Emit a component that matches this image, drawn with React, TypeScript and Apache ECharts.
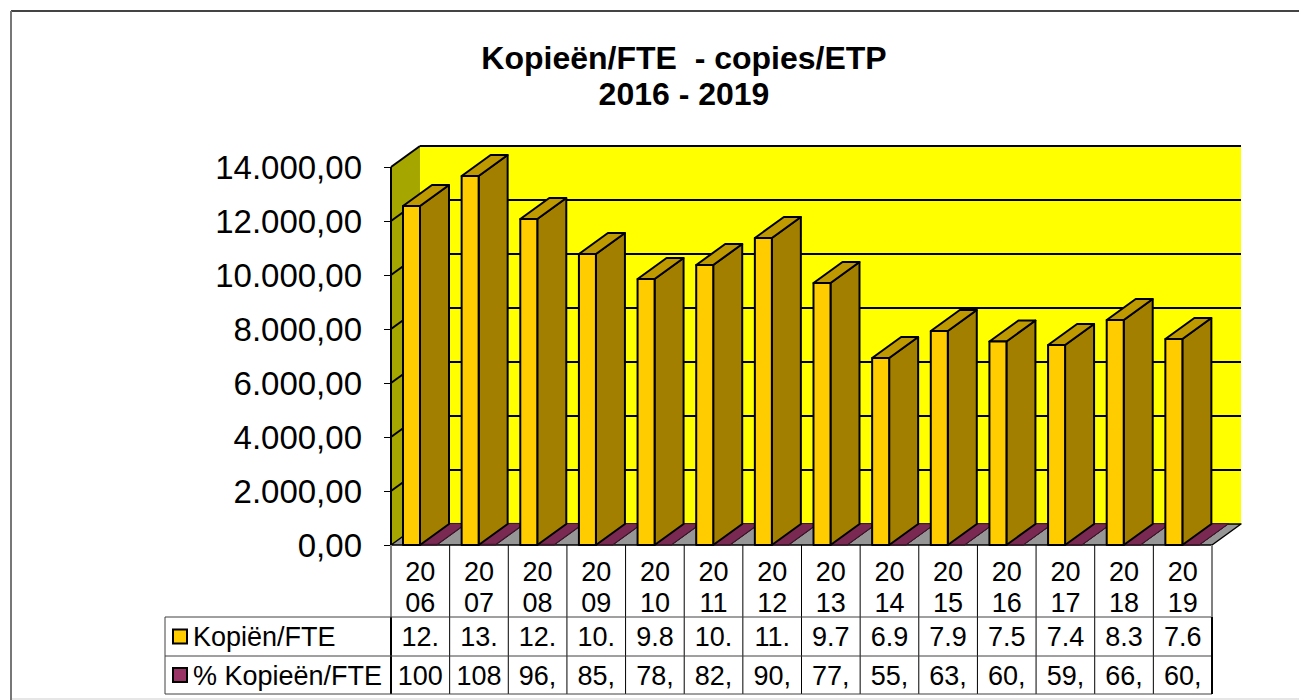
import React, { useEffect, useRef } from "react";
import * as echarts from "echarts";

const years = ["2006","2007","2008","2009","2010","2011","2012","2013","2014","2015","2016","2017","2018","2019"];
const copies = [12555,13667,12074,10778,9852,10370,11370,9704,6926,7926,7537,7407,8333,7630];
const percent = [100,108,96,85,78,82,90,77,55,63,60,59,66,60];
const axisLabels = ["20\n06","20\n07","20\n08","20\n09","20\n10","20\n11","20\n12","20\n13","20\n14","20\n15","20\n16","20\n17","20\n18","20\n19"];
const copiesCells = ["12.","13.","12.","10.","9.8","10.","11.","9.7","6.9","7.9","7.5","7.4","8.3","7.6"];
const percentCells = ["100","108","96,","85,","78,","82,","90,","77,","55,","63,","60,","59,","66,","60,"];
const seriesNames = ["Kopiën/FTE","% Kopieën/FTE"];
const titleLines = "Kopieën/FTE  - copies/ETP\n2016 - 2019";
const gridValues = [2000,4000,6000,8000,10000,12000,14000];

const DX = 29, DY = -21;
const FONT = "'Liberation Sans', Arial, sans-serif";
const poly = (points: number[][], fill: string, stroke = "#000", lineWidth = 2) => ({
  type: "polygon", shape: { points }, style: { fill, stroke, lineWidth, lineJoin: "round" },
});
const seg = (x1: number, y1: number, x2: number, y2: number, stroke = "#000", lineWidth = 1) => ({
  type: "line", shape: { x1, y1, x2, y2 }, style: { stroke, lineWidth },
});

function box3d(x: number, w: number, y0: number, yv: number, front: string, top: string, side: string, stroke = "#000", lw = 2) {
  return [
    poly([[x + w, y0], [x + w + DX, y0 + DY], [x + w + DX, yv + DY], [x + w, yv]], side, stroke, lw),
    poly([[x, yv], [x + w, yv], [x + w + DX, yv + DY], [x + DX, yv + DY]], top, stroke, lw),
    poly([[x, y0], [x + w, y0], [x + w, yv], [x, yv]], front, stroke, lw),
  ];
}

export default function App() {
  const ref = useRef<HTMLDivElement>(null);
  useEffect(() => {
    const chart = echarts.init(ref.current!, undefined, { renderer: "svg" });
    const edges = (api: any, i: number) => {
      const c = api.coord([i, 0])[0];
      const band = api.size([1, 0])[0];
      return { c, band, left: c - band / 2, right: c + band / 2 };
    };
    chart.setOption({
      animation: false,
      backgroundColor: "#fff",
      title: {
        text: titleLines, left: 679, top: 35, textAlign: "center",
        textStyle: { fontFamily: FONT, fontSize: 32, fontWeight: "bold", color: "#000", lineHeight: 36 },
      },
      grid: { left: 391, right: 87, top: 167, bottom: 155 },
      xAxis: {
        type: "category", data: years,
        axisLine: { show: false }, axisTick: { show: false },
        axisLabel: {
          interval: 0, margin: 11, color: "#000", fontFamily: FONT, fontSize: 27, lineHeight: 31,
          formatter: (_: string, i: number) => axisLabels[i],
        },
      },
      yAxis: [
        {
          type: "value", min: 0, max: 14000, interval: 2000,
          splitLine: { show: false },
          axisLine: { show: false },
          axisTick: { show: true, length: 7, lineStyle: { color: "#000", width: 1 } },
          axisLabel: {
            color: "#000", fontFamily: FONT, fontSize: 33, margin: 29, padding: [12, 0, 0, 0],
            formatter: (v: number) => v.toLocaleString("de-DE", { minimumFractionDigits: 2, maximumFractionDigits: 2 }),
          },
        },
        { type: "value", min: 0, max: 70000, show: false, splitLine: { show: false } },
      ],
      series: [
        {
          type: "custom", name: "walls", silent: true, clip: false, z: 1, data: [0],
          renderItem: (_: any, api: any) => {
            const first = edges(api, 0), last = edges(api, years.length - 1);
            const x0 = first.left, x1 = last.right;
            const y0 = api.coord([0, 0])[1], yT = api.coord([0, 14000])[1];
            const children: any[] = [
              poly([[x0 + DX, yT + DY], [x1 + DX, yT + DY], [x1 + DX, y0 + DY], [x0 + DX, y0 + DY]], "#FFFF00", "#FFFF00", 0),
              poly([[x0, yT], [x0 + DX, yT + DY], [x0 + DX, y0 + DY], [x0, y0]], "#A6A600", "#A6A600", 0),
              poly([[x0, y0], [x0 + DX, y0 + DY], [x1 + DX, y0 + DY], [x1, y0]], "#969696", "#000", 1.5),
              seg(x0, yT, x0, y0, "#000", 2),
            ];
            gridValues.forEach((v) => {
              const y = api.coord([0, v])[1];
              children.push(seg(x0, y, x0 + DX, y + DY, "#000", 2));
              children.push(seg(x0 + DX, y + DY, x1 + DX, y + DY, "#000", 2));
            });
            return { type: "group", children };
          },
        },
        {
          type: "custom", name: seriesNames[1], clip: false, z: 2, yAxisIndex: 1, data: percent.map((v, i) => [i, v]),
          renderItem: (_: any, api: any) => {
            const i = api.value(0);
            const e = edges(api, i);
            const y0 = api.coord([0, 0])[1], yv = api.coord([0, api.value(1)])[1];
            return { type: "group", children: box3d(e.left + 29, 17, y0, yv, "#993366", "#7A2952", "#5E1F3F", "#3A1528", 1) };
          },
        },
        {
          type: "custom", name: seriesNames[0], clip: false, z: 3, data: copies.map((v, i) => [i, v]),
          renderItem: (_: any, api: any) => {
            const i = api.value(0);
            const e = edges(api, i);
            const y0 = api.coord([0, 0])[1], yv = api.coord([0, api.value(1)])[1];
            return { type: "group", children: box3d(e.left + 12, 17, y0, yv, "#FFCC00", "#BF9900", "#A37F00") };
          },
        },
        {
          type: "custom", name: "table", silent: true, clip: false, z: 4, data: years.map((_, i) => i),
          renderItem: (_: any, api: any) => {
            const i = api.value(0);
            const e = edges(api, i);
            const y0 = api.coord([0, 0])[1];
            const rowA = y0 + 72, rowB = y0 + 111, rowC = y0 + 149;
            const cell = (text: string, cy: number) => ({
              type: "text", x: e.c, y: cy,
              style: { text, fill: "#000", font: `27px ${FONT}`, align: "center", verticalAlign: "middle" },
            });
            const children: any[] = [
              seg(e.right, y0, e.right, rowC, "#000", 1),
              cell(copiesCells[i], (rowA + rowB) / 2),
              cell(percentCells[i], (rowB + rowC) / 2 + 1),
            ];
            if (i === 0) {
              const lx = 165;
              children.push(seg(e.left, y0, e.left, rowA, "#808080", 2));
              children.push(seg(e.left, rowA, e.left, rowC, "#000", 2));
              [rowA, rowB, rowC].forEach((y) => children.push(seg(lx, y, e.left, y, "#404040", 1)));
              children.push(seg(lx, rowA, lx, rowC, "#404040", 1));
              seriesNames.forEach((name, k) => {
                const cy = k === 0 ? (rowA + rowB) / 2 : (rowB + rowC) / 2;
                children.push({
                  type: "rect", shape: { x: lx + 8, y: cy - 7, width: 14, height: 14 },
                  style: { fill: k === 0 ? "#FFCC00" : "#993366", stroke: "#000", lineWidth: 2 },
                });
                children.push({
                  type: "text", x: lx + 28, y: k === 0 ? cy : cy + 1,
                  style: { text: name, fill: "#000", font: `27px ${FONT}`, align: "left", verticalAlign: "middle" },
                });
              });
            }
            [rowA, rowB, rowC].forEach((y) => children.push(seg(e.left, y, e.right, y, "#404040", 1)));
            if (i === years.length - 1) {
              children.push(seg(e.right, y0, e.right, rowA, "#808080", 2));
              children.push(seg(e.right, rowA, e.right, rowC, "#000", 2));
            }
            return { type: "group", children };
          },
        },
      ],
      graphic: [
        { type: "line", silent: true, z: -1, shape: { x1: 11, y1: 11, x2: 1299, y2: 11 }, style: { stroke: "#444", lineWidth: 2 } },
        { type: "line", silent: true, z: -1, shape: { x1: 11, y1: 11, x2: 11, y2: 700 }, style: { stroke: "#777", lineWidth: 2 } },
        { type: "line", silent: true, z: -1, shape: { x1: 12, y1: 699, x2: 1299, y2: 699 }, style: { stroke: "#e6e6e6", lineWidth: 2 } },
      ],
    });
    return () => chart.dispose();
  }, []);
  return <div ref={ref} style={{ position: "absolute", left: 0, top: 0, width: 1299, height: 700 }} />;
}
